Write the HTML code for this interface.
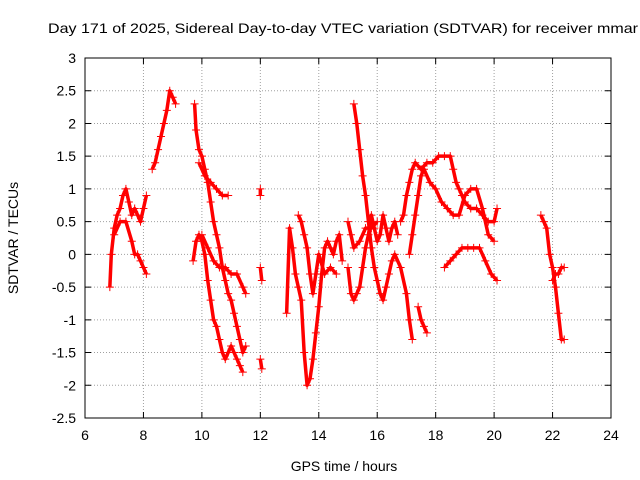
<!DOCTYPE html>
<html><head><meta charset="utf-8"><style>
body{margin:0;background:#fff;}
svg{display:block;font-family:"Liberation Sans",Arial,sans-serif;}
</style></head><body>
<svg id="chart" width="640" height="480" viewBox="0 0 640 480">
<g id="grid"></g>
<g id="series"></g>
<rect x="85" y="58" width="526" height="360" fill="none" stroke="#000" stroke-width="1"/>
<g id="axes"></g>
<text x="48" y="33" font-size="14" textLength="590" lengthAdjust="spacingAndGlyphs">Day 171 of 2025, Sidereal Day-to-day VTEC variation (SDTVAR) for receiver mmar</text>
<text x="344" y="471" font-size="14" text-anchor="middle">GPS time / hours</text>
<text transform="translate(18,238) rotate(-90)" font-size="14" text-anchor="middle">SDTVAR / TECUs</text>
</svg>
<script>
const xTicks=[6,8,10,12,14,16,18,20,22,24];
const yTicks=[3,2.5,2,1.5,1,0.5,0,-0.5,-1,-1.5,-2,-2.5];
const trackA=[[6.85,-0.5],[6.9,0],[7.0,0.4],[7.1,0.6],[7.2,0.7],[7.3,0.9],[7.4,1.0],[7.5,0.8],[7.6,0.6],[7.7,0.7],[7.8,0.6],[7.9,0.5],[8.0,0.7],[8.1,0.9]];
const trackB=[[7.0,0.3],[7.2,0.5],[7.4,0.5],[7.6,0.2],[7.7,0.0],[7.8,0.0],[7.9,-0.1],[8.0,-0.2],[8.1,-0.3]];
const trackC=[[8.3,1.3],[8.4,1.4],[8.5,1.6],[8.6,1.8],[8.7,2.0],[8.8,2.2],[8.9,2.5],[9.0,2.4],[9.1,2.3]];
const trackD=[[9.75,2.3],[9.8,1.9],[9.9,1.6],[10.0,1.5],[10.1,1.3],[10.2,1.1],[10.3,0.8],[10.4,0.5],[10.5,0.3],[10.6,0.1],[10.7,-0.2],[10.8,-0.4],[10.9,-0.6],[11.0,-0.7],[11.1,-0.9],[11.2,-1.1],[11.3,-1.3],[11.4,-1.5],[11.5,-1.4]];
const trackE=[[9.7,-0.1],[9.8,0.2],[9.9,0.3],[10.0,0.2],[10.1,0.0],[10.2,-0.4],[10.3,-0.7],[10.4,-1.0],[10.5,-1.1],[10.6,-1.3],[10.7,-1.5],[10.8,-1.6],[10.9,-1.5],[11.0,-1.4],[11.1,-1.5],[11.2,-1.6],[11.3,-1.7],[11.4,-1.8]];
const trackF=[[9.9,1.4],[10.1,1.2],[10.3,1.1],[10.5,1.0],[10.7,0.9],[10.9,0.9]];
const trackG=[[10.0,0.3],[10.2,0.1],[10.4,-0.1],[10.6,-0.2],[10.8,-0.2],[11.0,-0.3],[11.2,-0.3],[11.4,-0.5],[11.5,-0.6]];
const trackT1=[[12.0,1.0],[12.0,0.9]];
const trackT2=[[12.0,-0.2],[12.05,-0.4]];
const trackT3=[[12.0,-1.6],[12.05,-1.75]];
const trackH=[[12.9,-0.9],[13.0,0.4],[13.1,0.1],[13.2,-0.3],[13.3,-0.5],[13.4,-0.7],[13.5,-1.5],[13.6,-2.0],[13.7,-1.9],[13.8,-1.6],[13.9,-1.2],[14.0,-0.8],[14.1,-0.3],[14.2,0.1],[14.3,0.2],[14.4,0.1],[14.5,0.0],[14.6,0.2],[14.7,0.3],[14.8,-0.1]];
const trackI=[[13.3,0.6],[13.4,0.5],[13.5,0.3],[13.6,0.1],[13.7,-0.3],[13.8,-0.6],[13.9,-0.3],[14.0,0.0],[14.2,-0.3],[14.4,-0.2],[14.6,-0.3]];
const trackJ=[[15.0,-0.2],[15.1,-0.6],[15.2,-0.7],[15.3,-0.6],[15.4,-0.5],[15.5,-0.2],[15.6,0.1],[15.7,0.3],[15.8,0.6],[15.9,0.4],[16.0,0.2],[16.1,0.3],[16.2,0.6],[16.3,0.4],[16.4,0.2],[16.5,0.4],[16.6,0.5],[16.7,0.3]];
const trackK=[[15.2,2.3],[15.3,2.0],[15.4,1.6],[15.5,1.2],[15.6,0.9],[15.7,0.5],[15.8,0.1],[15.9,-0.2],[16.0,-0.4],[16.1,-0.6],[16.2,-0.7],[16.3,-0.5],[16.4,-0.3],[16.5,-0.1],[16.6,0.0],[16.8,-0.2],[17.0,-0.6],[17.1,-1.0],[17.2,-1.3]];
const trackL=[[15.0,0.5],[15.1,0.3],[15.2,0.1],[15.4,0.2],[15.6,0.4],[15.8,0.4],[16.0,0.5]];
const trackM=[[16.8,0.5],[16.9,0.6],[17.0,0.9],[17.1,1.1],[17.2,1.3],[17.3,1.4],[17.5,1.3],[17.7,1.4],[17.9,1.4],[18.1,1.5],[18.3,1.5],[18.5,1.5],[18.6,1.3],[18.7,1.1],[18.8,1.0],[18.9,0.9],[19.0,0.8],[19.2,0.7],[19.4,0.7],[19.6,0.6],[19.8,0.5],[20.0,0.5],[20.1,0.7]];
const trackN=[[17.1,0.0],[17.2,0.3],[17.3,0.6],[17.4,0.9],[17.5,1.2],[17.6,1.3],[17.8,1.1],[18.0,1.0],[18.2,0.8],[18.4,0.7],[18.6,0.6],[18.8,0.6],[19.0,0.9],[19.2,1.0],[19.4,1.0],[19.6,0.7],[19.8,0.3],[20.0,0.2]];
const trackO=[[17.4,-0.8],[17.5,-1.0],[17.6,-1.1],[17.7,-1.2]];
const trackP=[[18.3,-0.2],[18.5,-0.1],[18.7,0.0],[18.9,0.1],[19.1,0.1],[19.3,0.1],[19.5,0.1],[19.7,-0.1],[19.9,-0.3],[20.1,-0.4]];
const trackQ=[[21.6,0.6],[21.7,0.5],[21.8,0.4],[21.9,0.0],[22.0,-0.2],[22.1,-0.5],[22.2,-0.9],[22.3,-1.3],[22.4,-1.3]];
const trackR=[[22.0,-0.4],[22.1,-0.3],[22.2,-0.3],[22.3,-0.2],[22.4,-0.2]];
const tracks=[trackA,trackB,trackC,trackD,trackE,trackF,trackG,trackT1,trackT2,trackT3,trackH,trackI,trackJ,trackK,trackL,trackM,trackN,trackO,trackP,trackQ,trackR];

const X0=85,X1=611,Y0=58,Y1=418,xmin=6,xmax=24,ymin=-2.5,ymax=3;
const sx=v=>X0+(v-xmin)/(xmax-xmin)*(X1-X0);
const sy=v=>Y1-(v-ymin)/(ymax-ymin)*(Y1-Y0);
const NS="http://www.w3.org/2000/svg";
const grid=document.getElementById('grid'),axes=document.getElementById('axes'),ser=document.getElementById('series');
function mk(t,a){const e=document.createElementNS(NS,t);for(const k in a)e.setAttribute(k,a[k]);return e;}
xTicks.forEach(t=>{
  const x=sx(t);
  if(t>xmin&&t<xmax){const g=mk('line',{x1:x,y1:Y0,x2:x,y2:Y1,stroke:'#a0a0a0','stroke-dasharray':'1,2'});
  
  grid.appendChild(g);}
  const tk=mk('path',{d:`M${x},${Y1}v-6M${x},${Y0}v6`,stroke:'#000'});
  
  axes.appendChild(tk);
  const l=mk('text',{x:x,y:Y1+22,'font-size':'14','text-anchor':'middle'});l.textContent=t;
  
  axes.appendChild(l);
});
yTicks.forEach(t=>{
  const y=sy(t);
  if(t>ymin&&t<ymax){const g=mk('line',{x1:X0,y1:y,x2:X1,y2:y,stroke:'#a0a0a0','stroke-dasharray':'1,2'});
  
  grid.appendChild(g);}
  const tk=mk('path',{d:`M${X0},${y}h6M${X1},${y}h-6`,stroke:'#000'});
  
  axes.appendChild(tk);
  const l=mk('text',{x:X0-9,y:y+5,'font-size':'14','text-anchor':'end'});l.textContent=t;
  
  axes.appendChild(l);
});
tracks.forEach(tr=>{
  const pl=mk('polyline',{points:tr.map(p=>sx(p[0])+','+sy(p[1])).join(' '),fill:'none',stroke:'#f00','stroke-width':'3.5','stroke-linejoin':'round'});
  
  ser.appendChild(pl);
  tr.forEach(p=>{
    const x=sx(p[0]),y=sy(p[1]);
    const m=mk('path',{d:`M${x-4},${y}h8M${x},${y-4}v8`,stroke:'#f00','stroke-width':'1'});
    
    ser.appendChild(m);
  });
});
</script>
</body></html>
